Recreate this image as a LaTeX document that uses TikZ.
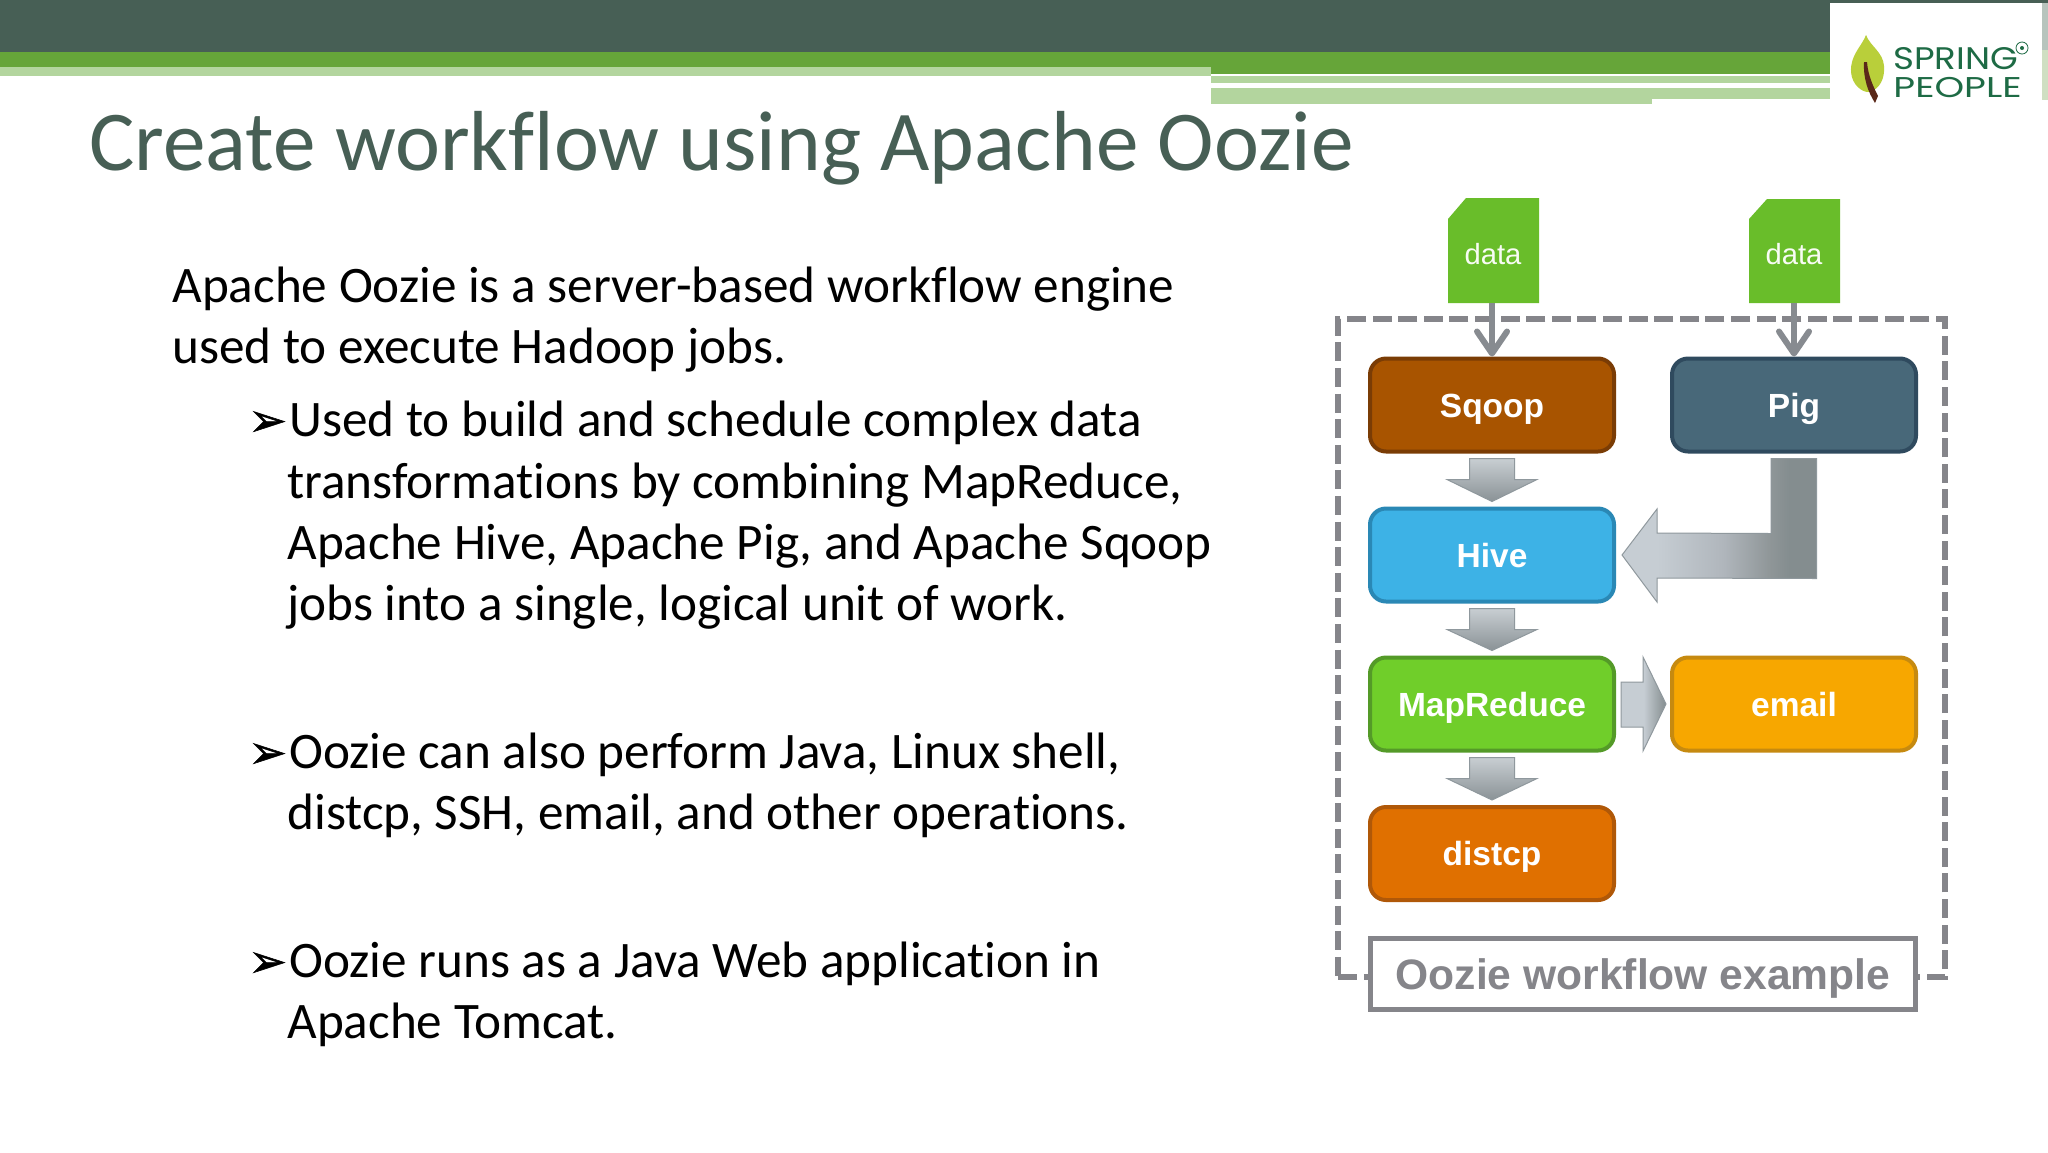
\documentclass[tikz,border=0pt]{standalone}
\usepackage{graphicx}
\usepackage{fontspec}
\setmainfont[Ligatures=NoCommon]{Carlito}
\newfontfamily\arialf{Liberation Sans}
\newfontfamily\dejaf[FakeBold=1.2]{DejaVu Sans}
\newfontfamily\logof{Poppins}
\usetikzlibrary{arrows.meta,calc}
\definecolor{bandDark}{HTML}{475F55}
\definecolor{bandGreen}{HTML}{66A539}
\definecolor{bandLight}{HTML}{B3D59E}
\definecolor{titleC}{HTML}{475F55}
\definecolor{frameC}{HTML}{85858A}
\definecolor{arrowC}{HTML}{878B90}
\definecolor{edgeC}{HTML}{8F989D}
\definecolor{dataC}{HTML}{69BD2A}
\definecolor{logoC}{HTML}{1E6B45}
\definecolor{downA}{HTML}{C8CED2}
\definecolor{downB}{HTML}{8A9296}
\pgfdeclareverticalshading{downshade}{100bp}{color(0bp)=(downB);color(25bp)=(downB);color(75bp)=(downA);color(100bp)=(downA)}
\definecolor{bentA}{HTML}{C6CDD3}
\definecolor{bentB}{HTML}{B0B6BC}
\definecolor{bentM}{HTML}{8F9698}
\definecolor{bentC}{HTML}{848D8F}
\pgfdeclarehorizontalshading{bentshade}{100bp}{color(0bp)=(bentA);color(34bp)=(bentA);color(51bp)=(bentB);color(63bp)=(bentM);color(68bp)=(bentC);color(100bp)=(bentC)}
\pgfdeclarehorizontalshading{rightshade}{100bp}{color(0bp)=(bentA);color(25bp)=(bentA);color(50bp)=(bentA);color(75bp)=(bentC);color(100bp)=(bentC)}
\tikzset{
  x=0.5pt,y=-0.5pt,
  box/.style={rounded corners=8pt,line width=2pt,minimum width=122pt,minimum height=46.5pt,inner sep=0pt,outer sep=1pt,
    text height=14pt,text depth=2pt,
    font=\arialf\bfseries\fontsize{16.75}{20}\selectfont,text=white},
  datatag/.style={fill=dataC,draw=none},
  datatext/.style={font=\arialf\fontsize{14.6}{18}\selectfont,text=white!95!dataC,inner sep=0pt},
  feed/.style={draw=arrowC,line width=3pt,-{Straight Barb[length=11pt,width=15pt,round]}},
  blockdown/.style={shade,shading=downshade,draw=edgeC,line width=0.5pt},
  bodytext/.style={anchor=base west,inner sep=0pt,font=\fontsize{25.6}{30}\selectfont,text=black},
  bullet/.style={anchor=base west,inner sep=0pt,font=\dejaf\fontsize{23}{26}\selectfont,text=black},
  logotext/.style={anchor=base west,inner sep=0pt,font=\logof\fontsize{13}{14}\selectfont,text=logoC},
}
\newcommand{\downblock}[2]{%
  \draw[blockdown] ($(#1.south)+(-22.5,5)$) -- ($(#1.south)+(22.5,5)$) -- ($(#1.south)+(22.5,26)$) -- ($(#1.south)+(45,26)$)
    -- ($(#2.north)+(0,-5)$) -- ($(#1.south)+(-45,26)$) -- ($(#1.south)+(-22.5,26)$) -- cycle;}
\begin{document}
\begin{tikzpicture}
\useasboundingbox (0,0) rectangle (2048,1152);
\fill[white] (0,0) rectangle (2048,1152);
% header bands
\fill[bandDark] (0,0) rectangle (2048,52);
\fill[bandGreen] (0,52) rectangle (2048,74);
\fill[bandLight] (0,67) rectangle (1211,76);
\fill[bandLight] (1211,76) rectangle (2048,83);
\fill[bandLight] (1211,88) rectangle (2048,99);
\fill[bandLight] (1211,99) rectangle (1652,104);
% logo
\fill[white] (1830,3) rectangle (2042,106);
\fill[color={rgb,255:red,183;green,196;blue,189}] (2042,3) rectangle (2048,50);
\fill[color={rgb,255:red,207;green,223;blue,194}] (2042,50) rectangle (2048,100);
\fill[color={rgb,255:red,185;green,207;blue,58}] (1866,35) .. controls (1862,46) and (1850,55) .. (1851,72) .. controls (1852,85) and (1862,92) .. (1868,92) .. controls (1880,90) and (1885,78) .. (1884,66) .. controls (1883,52) and (1870,46) .. (1866,35) -- cycle;
\fill[color={rgb,255:red,90;green,40;blue,25}] (1864,62) -- (1867,62) .. controls (1868,76) and (1874,88) .. (1878,96) -- (1875,103) .. controls (1868,92) and (1863,78) .. (1864,62) -- cycle;
\node[logotext] (logoa) at (1893,69) {\scalebox{1.37}[1.2]{SPRING}};
\node[logotext] (logob) at (1893,97) {\scalebox{1.45}[1.1]{PEOPLE}};
\draw[logoC,line width=0.4pt] (2022,48) circle (6);
\fill[logoC] (2022,48) circle (2);
% title
\node[anchor=base west,inner sep=0pt,font=\fontsize{42.6}{50}\selectfont,text=titleC] (title) at (89,170) {Create workflow using Apache Oozie};
% body
\node[bodytext] (l1) at (172,302) {Apache Oozie is a server-based workflow engine};
\node[bodytext] (l2) at (172,363) {used to execute Hadoop jobs.};
\node[bullet] (b1) at (248,436) {➢};
\node[bodytext] (l3) at (289,436) {Used to build and schedule complex data};
\node[bodytext] (l4) at (287,498) {transformations by combining MapReduce,};
\node[bodytext] (l5) at (287,559) {Apache Hive, Apache Pig, and Apache Sqoop};
\node[bodytext] (l6) at (287,620) {jobs into a single, logical unit of work.};
\node[bullet] (b2) at (248,768) {➢};
\node[bodytext] (l7) at (289,768) {Oozie can also perform Java, Linux shell,};
\node[bodytext] (l8) at (287,829) {distcp, SSH, email, and other operations.};
\node[bullet] (b3) at (248,977) {➢};
\node[bodytext] (l9) at (289,977) {Oozie runs as a Java Web application in};
\node[bodytext] (l10) at (287,1038) {Apache Tomcat.};
% frame
\node[draw=frameC,line width=3pt,dash pattern=on 9.5pt off 3.3pt,minimum width=303.25pt,minimum height=329pt,inner sep=0pt,outer sep=0pt] (frame) at (1641.5,648) {};
% boxes
\node[box,fill={rgb,255:red,168;green,84;blue,0},draw={rgb,255:red,122;green,60;blue,5}] (sqoop) at (1492,405) {Sqoop};
\node[box,fill={rgb,255:red,72;green,104;blue,121},draw={rgb,255:red,47;green,74;blue,94}] (pig) at (1794,405) {Pig};
\node[box,fill={rgb,255:red,61;green,178;blue,230},draw={rgb,255:red,42;green,136;blue,181}] (hive) at (1492,555) {Hive};
\node[box,fill={rgb,255:red,112;green,206;blue,42},draw={rgb,255:red,84;green,154;blue,40}] (mr) at (1492,704) {MapReduce};
\node[box,fill={rgb,255:red,247;green,167;blue,0},draw={rgb,255:red,198;green,138;blue,16}] (email) at (1794,704) {email};
\node[box,fill={rgb,255:red,224;green,112;blue,0},draw={rgb,255:red,176;green,88;blue,8}] (distcp) at (1492,853.5) {distcp};
% data tags
\fill[datatag] (1448,303) -- (1448,219) -- (1466,198) -- (1539,198) -- (1539,303) -- cycle;
\fill[datatag] (1749,303) -- (1749,219) -- (1767,199) -- (1840,199) -- (1840,303) -- cycle;
\node[datatext] (d1) at (1493,254) {data};
\node[datatext] (d2) at (1794,254) {data};
\coordinate (d1s) at (1492,303);
\coordinate (d2s) at (1794,303);
\draw[feed] (d1s) -- (sqoop.north);
\draw[feed] (d2s) -- (pig.north);
% block arrows
\downblock{sqoop}{hive}
\downblock{hive}{mr}
\downblock{mr}{distcp}
\draw[shade,shading=bentshade,draw=edgeC,line width=0.5pt] ($(pig.south)+(-23,5)$) -- ($(pig.south)+(22.5,5)$) -- ($(pig.south)+(22.5,125)$) -- (1657,578) -- (1657,602) -- ($(hive.east)+(6,0)$) -- (1657,509) -- (1657,533) -- ($(pig.south)+(-23,80)$) -- cycle;
\draw[shade,shading=rightshade,draw=edgeC,line width=0.5pt] (1621,682) -- (1643,682) -- (1643,657) -- (1666,704) -- (1643,751) -- (1643,727) -- (1621,727) -- cycle;
% label
\node[draw=frameC,fill=white,line width=2.2pt,minimum width=272.5pt,minimum height=35.5pt,inner sep=0pt,text height=17pt,text depth=2pt,font=\arialf\bfseries\fontsize{21.3}{25}\selectfont,text=frameC] (label) at (1643,974) {Oozie workflow example};
\end{tikzpicture}
\end{document}
